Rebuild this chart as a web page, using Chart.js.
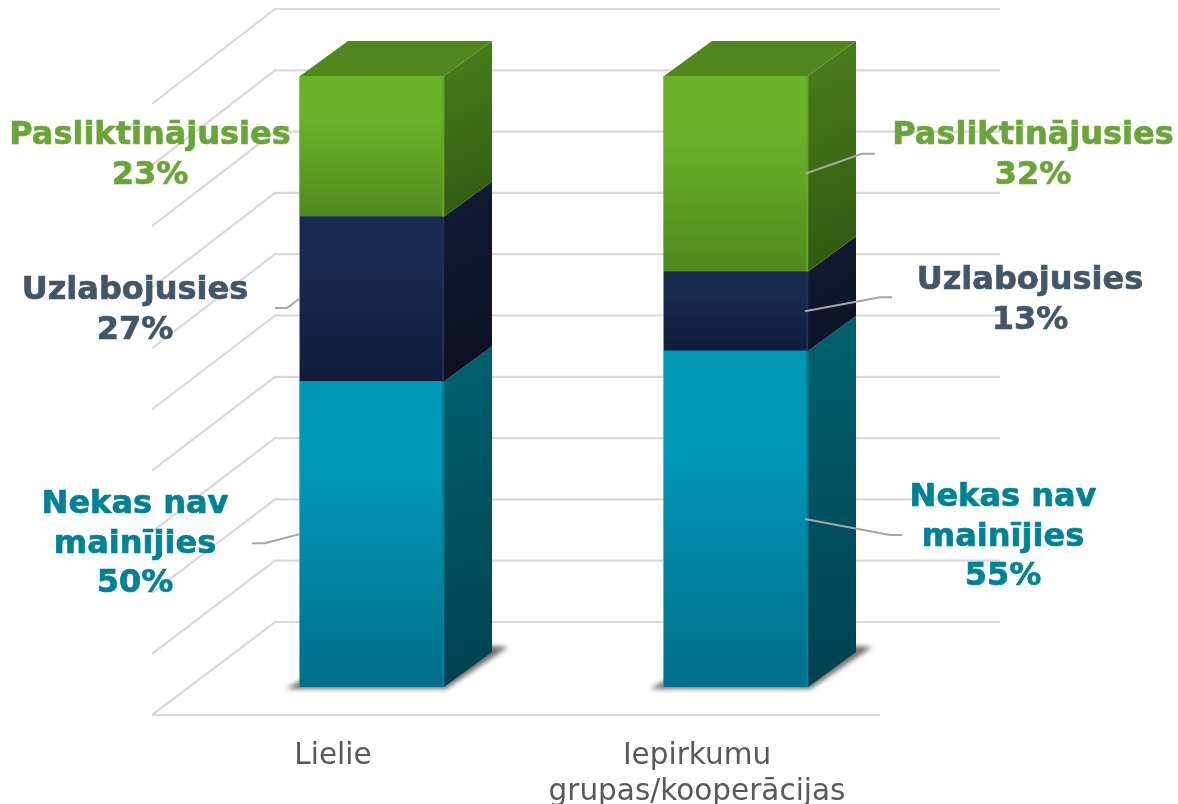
<!DOCTYPE html>
<html>
<head>
<meta charset="utf-8">
<style>
  html, body { margin: 0; padding: 0; background: #fff; }
  #wrap { width: 1178px; height: 804px; }
</style>
<script src="https://cdn.jsdelivr.net/npm/chart.js@4"></script>
</head>
<body>
<div id="wrap"><canvas id="chart"></canvas></div>
<script>
var categories = [["Lielie"], ["Iepirkumu", "grupas/kooperācijas"]];
var seriesNames = ["Nekas nav mainījies", "Uzlabojusies", "Pasliktinājusies"];
var unchanged = [50, 55];
var improved = [27, 13];
var worsened = [23, 32];
var yTicks = [0, 10, 20, 30, 40, 50, 60, 70, 80, 90, 100];

// front, side (top + bottom of each gradient) and label colour per series
var frontColors = [["#0098b7", "#006f89"], ["#192a50", "#101c38"], ["#69b329", "#4f8a1e"]];
var sideColors = [["#00626f", "#00404e"], ["#121b36", "#0b0f1f"], ["#4a801c", "#2e5410"]];
var edgeColors = ["#06809a", "#1f2f55", "#62a828"];
var textColors = ["#008296", "#435668", "#6aa539"];

// 3d look: how far the bar sides and the back wall sit from the front
var barDepth = { x: 48, y: -35 };
var wallLeft = 152, wallBack = 275, wallRight = 1000, floorRight = 880;
var frontDrop = 28, backRise = -65, backStretch = 2;

// text blocks next to the bars
var labelSpots = [
  { s: 2, b: 0, x: 150, y: 136, lines: ["Pasliktinājusies"] },
  { s: 1, b: 0, x: 135, y: 291, lines: ["Uzlabojusies"], side: -1, elbow: [-12, 9], end: -24 },
  { s: 0, b: 0, x: 135, y: 505, lines: ["Nekas nav", "mainījies"], side: -1, elbow: [-34, 9], end: -47 },
  { s: 2, b: 1, x: 1033, y: 136, lines: ["Pasliktinājusies"], side: 1, elbow: [57, -20], end: 70 },
  { s: 1, b: 1, x: 1030, y: 281, lines: ["Uzlabojusies"], side: 1, elbow: [75, -14], end: 87 },
  { s: 0, b: 1, x: 1003, y: 498, lines: ["Nekas nav", "mainījies"], side: 1, elbow: [85, 16], end: 97 }
];

function fillPoly(c, pts, fill) {
  c.fillStyle = fill;
  c.beginPath();
  pts.forEach(function (p, i) { i ? c.lineTo(p[0], p[1]) : c.moveTo(p[0], p[1]); });
  c.closePath();
  c.fill();
}

var wallPlugin = {
  id: "wall",
  beforeDatasetsDraw: function (chart) {
    var c = chart.ctx, y = chart.scales.y;
    c.save();
    c.strokeStyle = "#d9d9d9";
    c.lineWidth = 2.2;
    yTicks.forEach(function (t) {
      var py = y.getPixelForValue(t);
      var backY = py + backRise - backStretch * t / 100;
      c.beginPath();
      c.moveTo(wallLeft, py + frontDrop);
      c.lineTo(wallBack, backY);
      c.lineTo(wallRight, backY);
      c.stroke();
    });
    var floor = y.getPixelForValue(0) + frontDrop;
    c.beginPath();
    c.moveTo(wallLeft, floor);
    c.lineTo(floorRight, floor);
    c.stroke();

    // soft shadow under each bar, then side and top faces
    chart.getDatasetMeta(0).data.forEach(function (bar) {
      var l = bar.x - bar.width / 2, r = bar.x + bar.width / 2, b = bar.base;
      c.save();
      c.filter = "blur(2.5px)";
      fillPoly(c, [[l - 14, b + 2], [r + 2, b + 2], [r + barDepth.x + 16, b + barDepth.y - 5], [r + barDepth.x, b + barDepth.y - 6], [l, b - 6]], "#6e6e6e");
      c.restore();
    });
    chart.data.datasets.forEach(function (ds, s) {
      chart.getDatasetMeta(s).data.forEach(function (bar) {
        var r = bar.x + bar.width / 2, l = bar.x - bar.width / 2;
        var g = c.createLinearGradient(r, bar.y + barDepth.y, r + barDepth.x + 40, bar.base);
        g.addColorStop(0, sideColors[s][0]);
        g.addColorStop(1, sideColors[s][1]);
        fillPoly(c, [[r, bar.y], [r + barDepth.x, bar.y + barDepth.y], [r + barDepth.x, bar.base + barDepth.y], [r, bar.base]], g);
        if (s === chart.data.datasets.length - 1) {
          fillPoly(c, [[l, bar.y], [l + barDepth.x, bar.y + barDepth.y], [r + barDepth.x, bar.y + barDepth.y], [r, bar.y]], "#50871e");
        }
      });
    });
    c.restore();
  },
  afterDatasetsDraw: function (chart) {
    var c = chart.ctx;
    c.save();
    // lighter right edge and thin grey left edge on the front faces
    chart.data.datasets.forEach(function (ds, s) {
      chart.getDatasetMeta(s).data.forEach(function (bar) {
        var r = bar.x + bar.width / 2, l = bar.x - bar.width / 2;
        c.fillStyle = edgeColors[s];
        c.fillRect(r - 2, bar.y, 2, bar.base - bar.y);
        c.fillStyle = "rgba(120,120,120,0.55)";
        c.fillRect(l - 1, bar.y, 1, bar.base - bar.y);
      });
    });
    c.textAlign = "center";
    c.textBaseline = "middle";
    labelSpots.forEach(function (spot) {
      var bar = chart.getDatasetMeta(spot.s).data[spot.b];
      if (spot.side) {
        var sx = spot.side > 0 ? bar.x + bar.width / 2 - 3 : bar.x - bar.width / 2 - 1;
        var sy = (bar.y + bar.base) / 2;
        c.strokeStyle = "#a6a6a6";
        c.lineWidth = 2;
        c.beginPath();
        c.moveTo(sx, sy);
        c.lineTo(sx + spot.elbow[0], sy + spot.elbow[1]);
        c.lineTo(sx + spot.end, sy + spot.elbow[1]);
        c.stroke();
      }
      c.fillStyle = textColors[spot.s];
      c.strokeStyle = textColors[spot.s];
      c.lineWidth = 0.7;
      c.font = "bold 32px 'DejaVu Sans'";
      var value = chart.data.datasets[spot.s].data[spot.b] + "%";
      spot.lines.concat([value]).forEach(function (line, i) {
        c.fillText(line, spot.x, spot.y + i * 39.5);
        c.strokeText(line, spot.x, spot.y + i * 39.5);
      });
    });
    c.restore();
  }
};

// gradient spans one stacked segment, so work out its ends from the y scale
function frontGradient(s) {
  return function (ctx) {
    var chart = ctx.chart, y = chart.scales.y;
    if (!y || ctx.dataIndex === undefined) return frontColors[s][0];
    var low = 0;
    for (var k = 0; k < s; k++) low += chart.data.datasets[k].data[ctx.dataIndex];
    var high = low + chart.data.datasets[s].data[ctx.dataIndex];
    var top = y.getPixelForValue(high), bottom = y.getPixelForValue(low);
    if (!isFinite(top) || !isFinite(bottom)) return frontColors[s][0];
    var g = chart.ctx.createLinearGradient(0, top, 0, bottom);
    g.addColorStop(0, frontColors[s][0]);
    g.addColorStop(0.3, frontColors[s][0]);
    g.addColorStop(1, frontColors[s][1]);
    return g;
  };
}

new Chart(document.getElementById("chart"), {
  type: "bar",
  data: {
    labels: categories,
    datasets: [
      { label: seriesNames[0], data: unchanged, backgroundColor: frontGradient(0) },
      { label: seriesNames[1], data: improved, backgroundColor: frontGradient(1) },
      { label: seriesNames[2], data: worsened, backgroundColor: frontGradient(2) }
    ]
  },
  options: {
    responsive: true,
    maintainAspectRatio: false,
    animation: false,
    layout: { padding: { left: 190, right: 260, top: 76, bottom: 0 } },
    plugins: { legend: { display: false }, tooltip: { enabled: false } },
    datasets: { bar: { barThickness: 144 } },
    scales: {
      x: {
        stacked: true,
        grid: { display: false },
        border: { display: false },
        afterFit: function (scale) { scale.height = 117; },
        ticks: {
          autoSkip: false,
          maxRotation: 0,
          minRotation: 0,
          labelOffset: -39,
          padding: 44,
          color: "#595959",
          font: { family: "'DejaVu Sans'", size: 29.5, lineHeight: 1.2 }
        }
      },
      y: {
        stacked: true,
        display: false,
        min: 0,
        max: 100
      }
    }
  },
  plugins: [wallPlugin]
});
</script>
</body>
</html>
